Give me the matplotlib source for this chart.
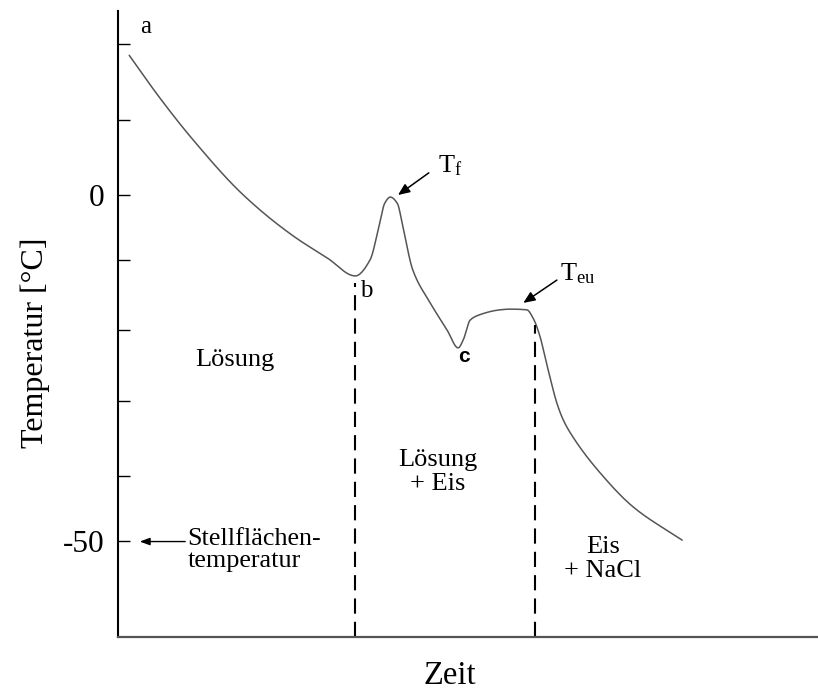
import numpy as np
import matplotlib
matplotlib.use("Agg")
import matplotlib.pyplot as plt

plt.rcParams['font.family'] = ['Liberation Serif', 'DejaVu Serif']
plt.rcParams['mathtext.fontset'] = 'custom'
plt.rcParams['mathtext.rm'] = 'Liberation Serif'
plt.rcParams['mathtext.it'] = 'Liberation Serif:italic'

# ---- data (time in arbitrary units, temperature in degC) ----
zeit = [1.6, 6.0, 10.7, 17.9, 25.0, 29.9, 33.9, 36.0, 37.4, 38.1, 38.9, 39.9,
        40.7, 42.1, 44.6, 47.0, 48.6, 49.3, 50.3, 51.7, 54.6, 56.0, 58.4,
        59.3, 60.3, 61.0, 61.7, 62.7, 63.6, 65.0, 68.9, 73.6, 80.6]
temperatur = [20.2, 14.0, 8.0, 0.0, -5.9, -9.1, -11.7, -9.4, -4.0, -1.2, -0.3,
              -1.2, -4.6, -10.8, -15.6, -19.5, -22.1, -21.0, -18.1, -17.3,
              -16.6, -16.5, -16.6, -17.8, -20.5, -23.4, -26.3, -30.1, -32.5,
              -35.0, -40.2, -45.1, -49.9]
ytick_values = [21.8, 10.8, 0, -9.4, -19.5, -29.8, -40.6, -50]
ytick_labels = ['', '', '0', '', '', '', '', '-50']
phase_boundaries = [33.9, 59.6]          # x of point b and end of eutectic plateau
phase_boundary_top = [-12.7, -18.8]
x_range = (0, 100)
y_range = (-63.9, 26.6)


def pchip(x, y, n=25):
    """Monotone piecewise cubic Hermite curve through the points (drawing only)."""
    x = np.asarray(x, float)
    y = np.asarray(y, float)
    h = np.diff(x)
    d = np.diff(y) / h
    m = np.zeros_like(y)
    for k in range(1, len(x) - 1):
        if d[k - 1] * d[k] > 0:
            w1 = 2 * h[k] + h[k - 1]
            w2 = h[k] + 2 * h[k - 1]
            m[k] = (w1 + w2) / (w1 / d[k - 1] + w2 / d[k])
    m[0] = d[0]
    m[-1] = d[-1]
    xs, ys = [], []
    for k in range(len(x) - 1):
        t = np.linspace(0, 1, n, endpoint=False)
        h00 = 2 * t ** 3 - 3 * t ** 2 + 1
        h10 = t ** 3 - 2 * t ** 2 + t
        h01 = -2 * t ** 3 + 3 * t ** 2
        h11 = t ** 3 - t ** 2
        xs.append(x[k] + t * h[k])
        ys.append(h00 * y[k] + h10 * h[k] * m[k] + h01 * y[k + 1] + h11 * h[k] * m[k + 1])
    xs.append([x[-1]])
    ys.append([y[-1]])
    return np.concatenate(xs), np.concatenate(ys)


fig = plt.figure(figsize=(8.18, 6.9), dpi=100)
ax = fig.add_axes([118 / 818, (690 - 637) / 690, 700 / 818, (637 - 11) / 690])
ax.set_xlim(*x_range)
ax.set_ylim(*y_range)

sx, sy = pchip(zeit, temperatur)
ax.plot(sx, sy, color='#555555', lw=1.1, solid_capstyle='round',
        solid_joinstyle='round')

for xb, yt in zip(phase_boundaries, phase_boundary_top):
    ax.plot([xb, xb], [y_range[0], yt], color='black', lw=1.5,
            linestyle=(0, (7.3, 3.9)))

ax.spines['top'].set_visible(False)
ax.spines['right'].set_visible(False)
ax.spines['left'].set_linewidth(1.5)
ax.spines['left'].set_color('black')
ax.spines['bottom'].set_linewidth(1.6)
ax.spines['bottom'].set_color('#555555')

ax.set_xticks([])
ax.set_yticks(ytick_values)
ax.set_yticklabels(ytick_labels)
ax.tick_params(axis='y', direction='in', length=8.5, width=1.0, pad=10,
               labelsize=22.5, colors='black')

fig.text(35 / 818, 1 - 343 / 690, 'Temperatur [°C]', rotation=90,
         ha='center', va='center', fontsize=23)
fig.text(450 / 818, 1 - 684 / 690, 'Zeit', ha='center', va='baseline',
         fontsize=23.5)

ax.text(4.0, 24.3, 'a', ha='center', va='center', fontsize=18)
ax.text(35.4, -13.9, 'b', ha='center', va='center', fontsize=18)
ax.text(49.4, -23.3, 'c', ha='center', va='center', fontsize=15,
        family='Liberation Sans', weight='bold')

ax.annotate('', xy=(40.0, 0.0), xytext=(44.4, 3.2),
            arrowprops=dict(arrowstyle='-|>,head_length=0.7,head_width=0.3',
                            color='black', lw=1.1, shrinkA=0, shrinkB=0))
ax.text(45.7, 3.2, r'$\mathregular{T_f}$', ha='left', va='baseline', fontsize=19)

ax.annotate('', xy=(57.9, -15.6), xytext=(62.7, -12.3),
            arrowprops=dict(arrowstyle='-|>,head_length=0.7,head_width=0.3',
                            color='black', lw=1.1, shrinkA=0, shrinkB=0))
ax.text(63.1, -12.3, r'$\mathregular{T_{eu}}$', ha='left', va='baseline', fontsize=19)

ax.annotate('', xy=(3.1, -50.1), xytext=(9.6, -50.1),
            arrowprops=dict(arrowstyle='-|>,head_length=0.6,head_width=0.22',
                            color='black', lw=1.0, shrinkA=0, shrinkB=0))
ax.text(9.9, -51.3, 'Stellflächen-\ntemperatur', ha='left', va='center',
        fontsize=18.8, linespacing=1.0)

ax.text(16.7, -23.8, 'Lösung', ha='center', va='center', fontsize=19)
ax.text(45.7, -40.0, 'Lösung\n+ Eis', ha='center', va='center', fontsize=19,
        multialignment='center', linespacing=1.1)
ax.text(69.3, -52.6, 'Eis\n+ NaCl', ha='center', va='center', fontsize=19,
        multialignment='center', linespacing=1.1)

fig.savefig('out.png', dpi=100)
